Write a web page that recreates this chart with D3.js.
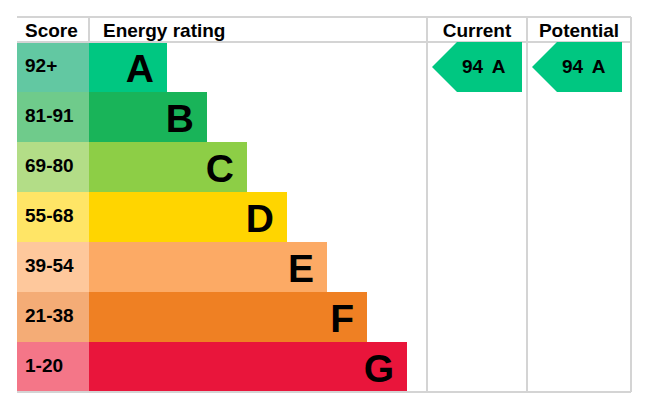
<!DOCTYPE html>
<html>
<head>
<meta charset="utf-8">
<script src="https://cdn.jsdelivr.net/npm/d3@7"></script>
<style>
  body { margin: 0; background: #fff; }
  text { font-family: "Liberation Sans", Arial, sans-serif; font-weight: bold; fill: #000; }
</style>
</head>
<body>
<div id="epc"></div>
<script>
// the data
var bands = ["A", "B", "C", "D", "E", "F", "G"];
var scores = ["92+", "81-91", "69-80", "55-68", "39-54", "21-38", "1-20"];
var bandColors = ["#00c781", "#19b459", "#8dce46", "#ffd500", "#fcaa65", "#ef8023", "#e9153b"];
var scoreColors = ["#62c8a2", "#6fcb8b", "#b3dd87", "#ffe566", "#fec89c", "#f4ac76", "#f47688"];
var columns = ["Current", "Potential"];
var ratings = [94, 94];
var ratingBands = ["A", "A"];

var width = 661, height = 413;
var m = {left: 17, top: 17, right: 631, bottom: 392};
var headerH = 25, scoreW = 72;
var colEdges = [427, 527, 631];

var svg = d3.select("#epc")
  .append("svg")
  .attr("width", width)
  .attr("height", height);

// rows
var y = d3.scaleBand()
  .domain(bands)
  .range([m.top + headerH, m.bottom]);

// bar length grows with the band index
var barEnd = d3.scaleLinear()
  .domain([0, bands.length - 1])
  .range([m.left + scoreW + 78, m.left + scoreW + 318]);

var rows = svg.selectAll("g.row")
  .data(bands)
  .enter().append("g")
  .attr("class", "row")
  .attr("transform", function(d) { return "translate(0," + y(d) + ")"; });

rows.append("rect")
  .attr("x", m.left)
  .attr("width", scoreW)
  .attr("height", y.bandwidth())
  .attr("fill", function(d, i) { return scoreColors[i]; });

rows.append("rect")
  .attr("x", m.left + scoreW)
  .attr("width", function(d, i) { return barEnd(i) - m.left - scoreW; })
  .attr("height", y.bandwidth())
  .attr("fill", function(d, i) { return bandColors[i]; });

rows.append("text")
  .attr("x", m.left + 8)
  .attr("y", 30)
  .style("font-size", "19px")
  .text(function(d, i) { return scores[i]; });

rows.append("text")
  .attr("x", function(d, i) { return barEnd(i) - 13; })
  .attr("y", 40)
  .attr("text-anchor", "end")
  .style("font-size", "39px")
  .text(function(d) { return d; });

// grid lines
var grid = "#d4d4d4";
svg.append("line").attr("x1", m.left).attr("x2", m.right).attr("y1", m.top).attr("y2", m.top)
  .attr("stroke", grid).attr("stroke-width", 2);
svg.append("line").attr("x1", m.left).attr("x2", m.right).attr("y1", m.top + headerH).attr("y2", m.top + headerH)
  .attr("stroke", grid).attr("stroke-width", 2);
svg.append("line").attr("x1", m.left).attr("x2", m.right).attr("y1", m.bottom).attr("y2", m.bottom)
  .attr("stroke", grid).attr("stroke-width", 2);
svg.append("line").attr("x1", m.left + scoreW).attr("x2", m.left + scoreW).attr("y1", m.top).attr("y2", m.top + headerH)
  .attr("stroke", grid).attr("stroke-width", 2);
svg.selectAll("line.col")
  .data(colEdges)
  .enter().append("line")
  .attr("class", "col")
  .attr("x1", function(d) { return d; })
  .attr("x2", function(d) { return d; })
  .attr("y1", m.top)
  .attr("y2", m.bottom)
  .attr("stroke", grid)
  .attr("stroke-width", 2);

// headers
svg.append("text").attr("x", m.left + 8).attr("y", m.top + 20).style("font-size", "19px").text("Score");
svg.append("text").attr("x", m.left + scoreW + 14).attr("y", m.top + 20).style("font-size", "19px").text("Energy rating");
svg.selectAll("text.colhead")
  .data(columns)
  .enter().append("text")
  .attr("class", "colhead")
  .attr("x", function(d, i) { return (colEdges[i] + colEdges[i + 1]) / 2; })
  .attr("y", m.top + 20)
  .attr("text-anchor", "middle")
  .style("font-size", "19px")
  .text(function(d) { return d; });

// arrows for current / potential
var arrows = svg.selectAll("g.arrow")
  .data(ratings)
  .enter().append("g")
  .attr("class", "arrow")
  .attr("transform", function(d, i) {
    return "translate(" + (colEdges[i] + 5) + "," + y(ratingBands[i]) + ")";
  });

arrows.append("path")
  .attr("d", function() {
    var h = y.bandwidth(), w = 90, tip = 25;
    return "M0," + h / 2 + "L" + tip + ",0L" + w + ",0L" + w + "," + h + "L" + tip + "," + h + "Z";
  })
  .attr("fill", function(d, i) { return bandColors[bands.indexOf(ratingBands[i])]; });

arrows.append("text")
  .attr("x", 30)
  .attr("y", 31)
  .style("font-size", "19px")
  .style("word-spacing", "4px")
  .text(function(d, i) { return d + " " + ratingBands[i]; });
</script>
</body>
</html>
